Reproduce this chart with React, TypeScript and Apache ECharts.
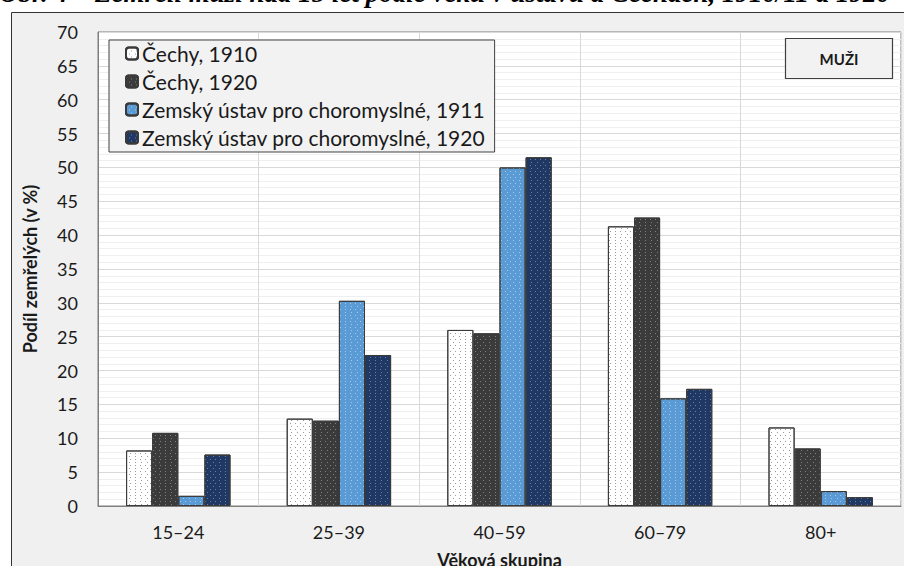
import React, { useEffect, useRef } from "react";
import * as echarts from "echarts";

const titleText = "Obr. 4 – Zemřelí muži nad 15 let podle věku v ústavu a Čechách, 1910/11 a 1920";
const categories = ["15–24", "25–39", "40–59", "60–79", "80+"];
const seriesNames = [
  "Čechy, 1910",
  "Čechy, 1920",
  "Zemský ústav pro choromyslné, 1911",
  "Zemský ústav pro choromyslné, 1920",
];
const cechy1910 = [8.2, 12.9, 26.0, 41.3, 11.6];
const cechy1920 = [10.8, 12.6, 25.5, 42.6, 8.5];
const ustav1911 = [1.5, 30.3, 50.0, 15.9, 2.2];
const ustav1920 = [7.6, 22.3, 51.5, 17.3, 1.3];
const yMin = 0;
const yMax = 70;
const yStep = 5;
const panelLabel = "MUŽI";
const yAxisTitle = "Podíl zemřelých (v %)";
const xAxisTitle = "Věková skupina";

const FONT = "Lato";

export default function App() {
  const ref = useRef<HTMLDivElement>(null);
  useEffect(() => {
    document.body.style.margin = "0";
    const chart = echarts.init(ref.current!, null, { renderer: "svg" });
    const fills = ["#ffffff", "#3b3b3b", "#5b9bd5", "#1f3864"];
    const dots = ["#9a9a9a", "rgba(255,255,255,0.35)", "rgba(255,255,255,0.45)", "rgba(255,255,255,0.35)"];
    const datas = [cechy1910, cechy1920, ustav1911, ustav1920];
    const series = datas.map((d, i) => ({
      name: seriesNames[i],
      type: "bar",
      data: d,
      barGap: "0%",
      barCategoryGap: "35%",
      itemStyle: {
        color: fills[i],
        borderColor: "#3a3a3a",
        borderWidth: 1,
        decal: {
          symbol: "rect",
          symbolSize: 1,
          color: dots[i],
          dashArrayX: [[1, 4], [0, 2.5, 1, 1.5]],
          dashArrayY: [1, 2],
          rotation: 0,
        },
      },
      emphasis: { disabled: true },
    }));
    chart.setOption({
      animation: false,
      backgroundColor: "#ffffff",
      textStyle: { fontFamily: FONT },
      graphic: [
        {
          type: "rect",
          z: -100,
          shape: { x: 11.5, y: 12.5, width: 1000, height: 1000 },
          style: { fill: "#f0f0f0", stroke: "#333333", lineWidth: 1 },
        },
        {
          type: "text",
          x: -1,
          y: -7,
          style: {
            text: titleText,
            font: "italic bold 27px 'Liberation Serif'",
            fill: "#000",
            verticalAlign: "middle",
            align: "left",
          },
        },
        {
          type: "rect",
          shape: { x: 785.5, y: 38.5, width: 107, height: 40 },
          style: { fill: "#f2f2f2", stroke: "#404040", lineWidth: 1.2 },
          z: 50,
        },
        {
          type: "text",
          x: 839,
          y: 59,
          z: 51,
          style: {
            text: panelLabel,
            font: `bold 15px ${FONT}`,
            fill: "#1a1a1a",
            align: "center",
            verticalAlign: "middle",
          },
        },
      ],
      legend: {
        orient: "vertical",
        left: 109,
        top: 40,
        padding: [3, 9, 4, 16],
        itemGap: 7,
        itemWidth: 12,
        itemHeight: 12,
        backgroundColor: "#f2f2f2",
        borderColor: "#404040",
        borderWidth: 1,
        textStyle: { fontFamily: FONT, fontSize: 21, color: "#1a1a1a", lineHeight: 20, padding: [0, 0, 0, -1] },
        data: seriesNames,
        selectedMode: false,
      },
      grid: {
        left: 98,
        right: 3,
        top: 32,
        bottom: 60,
        outerBoundsMode: "none",
        containLabel: false,
        show: true,
        backgroundColor: "#ffffff",
        borderColor: "#7f7f7f",
        borderWidth: 1,
      },
      xAxis: {
        type: "category",
        data: categories,
        name: xAxisTitle,
        nameLocation: "middle",
        nameGap: 45,
        nameTextStyle: { fontFamily: FONT, fontSize: 18, fontWeight: "bold", color: "#1a1a1a" },
        axisLine: { show: true, lineStyle: { color: "#7f7f7f" } },
        axisTick: { show: false },
        axisLabel: { margin: 17, fontSize: 18, color: "#1a1a1a", fontFamily: FONT },
        splitLine: { show: true, interval: 0, lineStyle: { color: "#d9d9d9" } },
      },
      yAxis: {
        type: "value",
        min: yMin,
        max: yMax,
        interval: yStep,
        name: yAxisTitle,
        nameLocation: "middle",
        nameGap: 59,
        nameRotate: 90,
        nameTextStyle: { fontFamily: FONT, fontSize: 18, fontWeight: "bold", color: "#1a1a1a" },
        axisLine: { show: true, lineStyle: { color: "#7f7f7f" } },
        axisTick: { show: false },
        axisLabel: { margin: 20, fontSize: 18, color: "#1a1a1a", fontFamily: FONT },
        splitLine: { show: true, lineStyle: { color: "#d9d9d9" } },
        minorTick: { show: false, splitNumber: 5 },
        minorSplitLine: { show: true, lineStyle: { color: "#efefef" } },
      },
      series,
    });
    return () => chart.dispose();
  }, []);
  return <div ref={ref} style={{ width: 904, height: 566 }} />;
}
